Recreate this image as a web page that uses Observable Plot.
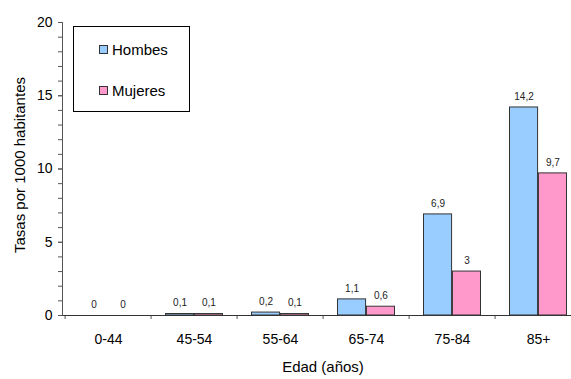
<!DOCTYPE html>
<html>
<head>
<meta charset="utf-8">
<script src="https://cdn.jsdelivr.net/npm/d3@7"></script>
<script src="https://cdn.jsdelivr.net/npm/@observablehq/plot@0.6"></script>
<style>
  html, body { margin: 0; padding: 0; background: #fff; }
  #wrap { position: relative; width: 571px; height: 379px; overflow: hidden; font-family: "Liberation Sans", Arial, sans-serif; }
  #legend { position: absolute; left: 73px; top: 26px; width: 115px; height: 84px; border: 1px solid #000; background: #fff; font-size: 15px; color: #000; }
  #ytitle { position: absolute; left: 19px; top: 165px; transform: translate(-50%, -50%) rotate(-90deg); white-space: nowrap; font-size: 15px; color: #000; line-height: 1; }
  .item { position: absolute; left: 25px; display: flex; align-items: center; }
  .sw { width: 7px; height: 7px; border: 1px solid #333; margin-right: 4px; }
</style>
</head>
<body>
<div id="wrap">
  <div id="chart"></div>
  <div id="ytitle"></div>
  <div id="legend"></div>
</div>
<script>
// Age groups and rates per 1000 inhabitants
const ages = ["0-44", "45-54", "55-64", "65-74", "75-84", "85+"];
const hombres = [0, 0.1, 0.2, 1.1, 6.9, 14.2];
const mujeres = [0, 0.1, 0.1, 0.6, 3, 9.7];
const seriesNames = ["Hombes", "Mujeres"];
const seriesColors = ["#99ccff", "#ff99cc"];
const yTicks = [0, 5, 10, 15, 20];
const yTitle = "Tasas por 1000 habitantes";
const xTitle = "Edad (años)";

const rowsH = ages.map((a, i) => ({age: a, value: hombres[i]}));
const rowsM = ages.map((a, i) => ({age: a, value: mujeres[i]}));

const chartW = 571, chartH = 379;
const mLeft = 62, mTop = 22, mBottom = 64;
const xRange = [62, 583];
const step = (xRange[1] - xRange[0]) / ages.length;
const half = step / 2;
const outer = 14.5;
const fmt = v => String(v).replace(".", ",");
const labelFont = "'Liberation Sans Narrow', 'Liberation Sans', Arial";

const plot = Plot.plot({
  width: chartW,
  height: chartH,
  marginLeft: mLeft,
  marginTop: mTop,
  marginBottom: mBottom,
  marginRight: 0,
  style: {fontFamily: "'Liberation Sans', Arial, sans-serif", background: "#fff", overflow: "hidden"},
  x: {domain: ages, range: xRange, padding: 0, label: null},
  y: {domain: [0, 20], label: null},
  marks: [
    // minor and major ticks on the value axis
    Plot.axisY({ticks: d3.range(0, 21), tickSize: 4, text: null, stroke: "#555", label: null}),
    Plot.axisY({ticks: yTicks, tickSize: 4, tickPadding: 6, fontSize: 14, stroke: "#555", fill: "#000", label: null}),
    // category boundary ticks and labels
    Plot.axisX({ticks: ages, tickSize: 4, text: null, dx: -half, stroke: "#555", label: null}),
    Plot.axisX({ticks: ages, tickSize: 0, tickPadding: 19, fontSize: 14, fill: "#000", label: null}),
    Plot.text([xTitle], {frameAnchor: "bottom", dx: 6, dy: 56, fontSize: 15, fill: "#000"}),
    // bars
    Plot.barY(rowsH, {x: "age", y: "value", fill: seriesColors[0], stroke: "#333", strokeWidth: 1, insetLeft: outer, insetRight: half}),
    Plot.barY(rowsM, {x: "age", y: "value", fill: seriesColors[1], stroke: "#333", strokeWidth: 1, insetLeft: half, insetRight: outer}),
    // value labels
    Plot.text(rowsH, {x: "age", y: "value", text: d => fmt(d.value), dx: -(half - outer) / 2, dy: -11, fontSize: 10, fontFamily: labelFont, fill: "#222"}),
    Plot.text(rowsM, {x: "age", y: "value", text: d => fmt(d.value), dx: (half - outer) / 2, dy: -11, fontSize: 10, fontFamily: labelFont, fill: "#222"}),
    // axis lines
    Plot.ruleY([0], {stroke: "#333"}),
    Plot.frame({anchor: "left", stroke: "#555"})
  ]
});
document.getElementById("chart").appendChild(plot);
document.getElementById("ytitle").textContent = yTitle;

// legend
const legend = document.getElementById("legend");
seriesNames.forEach((name, i) => {
  const item = document.createElement("div");
  item.className = "item";
  item.style.top = (i === 0 ? 14 : 55) + "px";
  const sw = document.createElement("span");
  sw.className = "sw";
  sw.style.background = seriesColors[i];
  const label = document.createElement("span");
  label.textContent = name;
  item.appendChild(sw);
  item.appendChild(label);
  legend.appendChild(item);
});
</script>
</body>
</html>
